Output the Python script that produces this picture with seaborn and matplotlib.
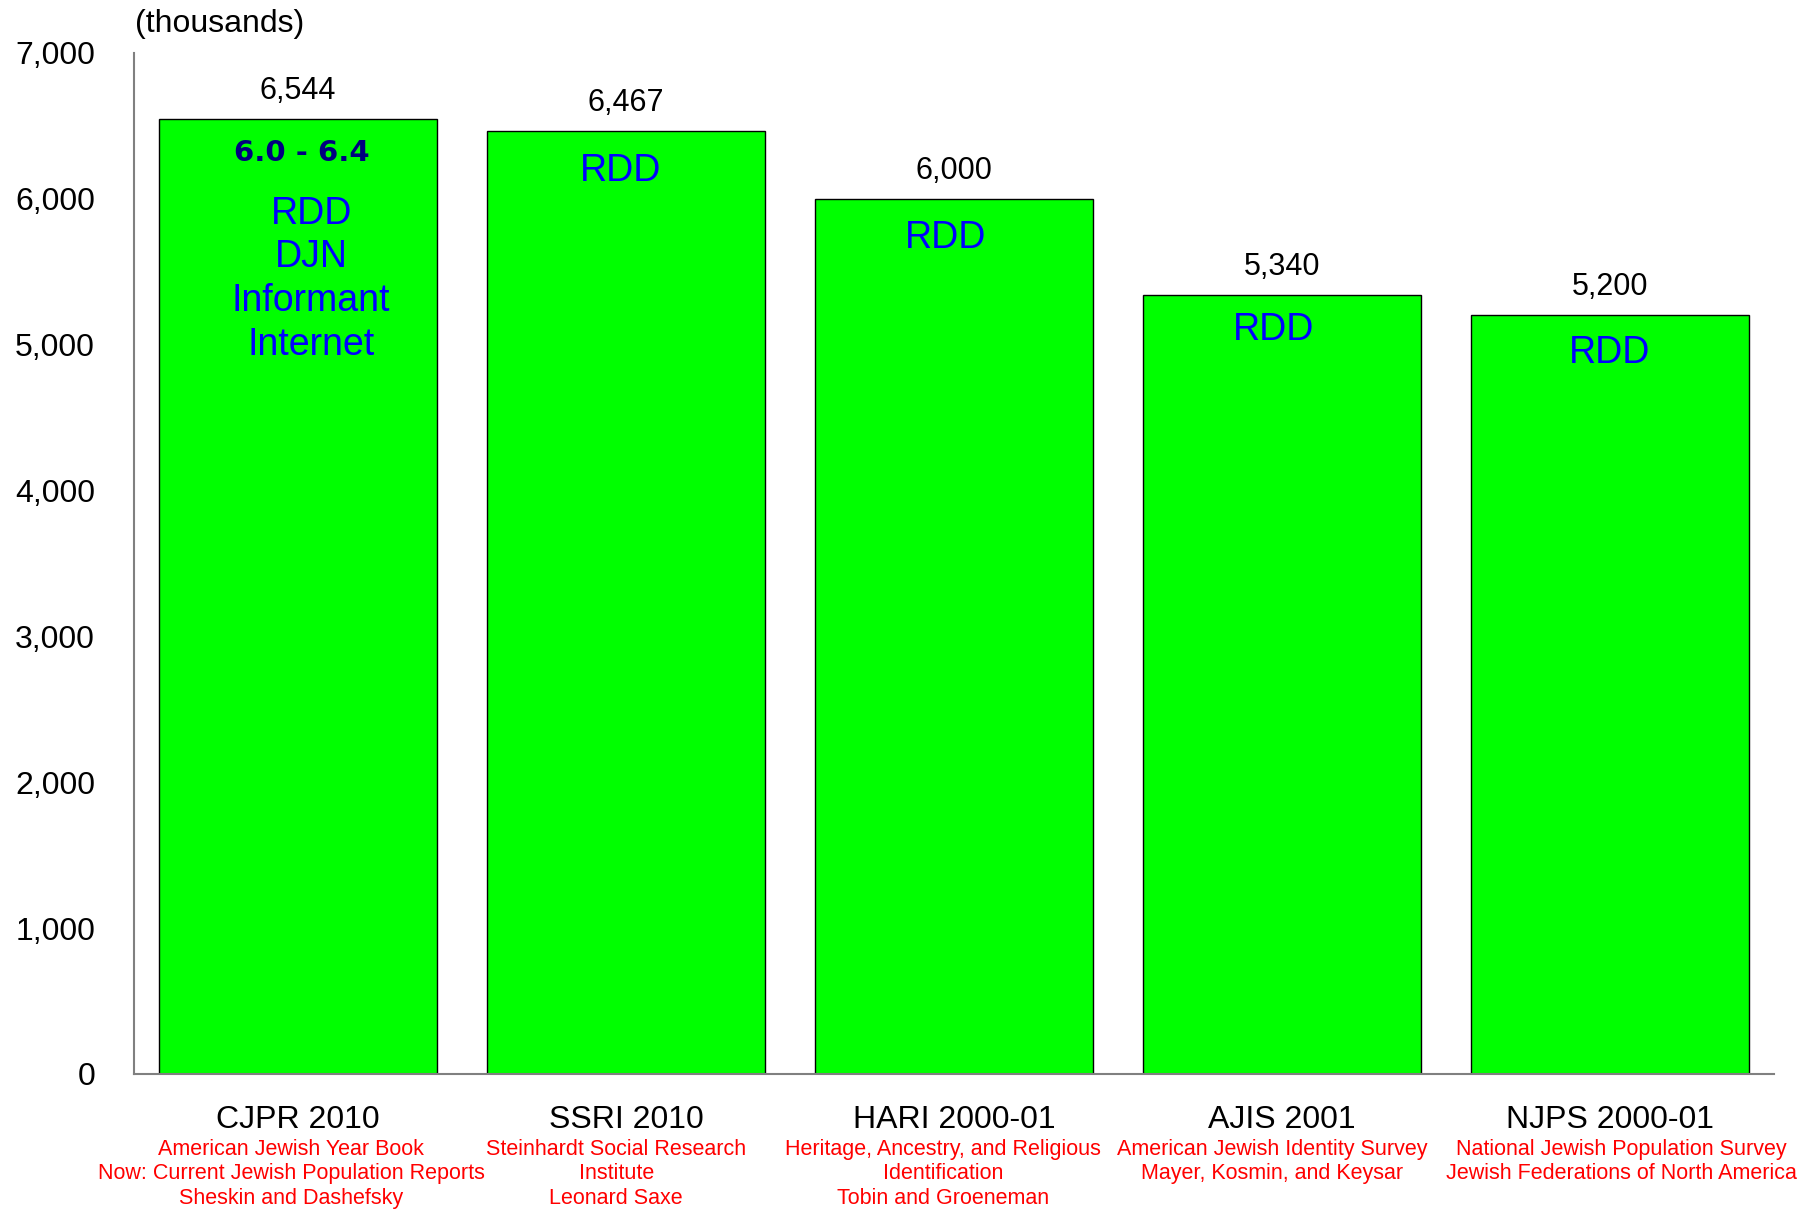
import matplotlib
matplotlib.use("Agg")
import matplotlib.pyplot as plt
import seaborn as sns
import pandas as pd

# ---- data ----
categories = ["CJPR 2010", "SSRI 2010", "HARI 2000-01", "AJIS 2001", "NJPS 2000-01"]
values = [6544, 6467, 6000, 5340, 5200]
value_labels = ["6,544", "6,467", "6,000", "5,340", "5,200"]
methods = ["RDD\nDJN\nInformant\nInternet", "RDD", "RDD", "RDD", "RDD"]
range_label = "6.0 - 6.4"
sources = [
    "American Jewish Year Book\nNow: Current Jewish Population Reports\nSheskin and Dashefsky",
    "Steinhardt Social Research\nInstitute\nLeonard Saxe",
    "Heritage, Ancestry, and Religious\nIdentification\nTobin and Groeneman",
    "American Jewish Identity Survey\nMayer, Kosmin, and Keysar",
    "National Jewish Population Survey\nJewish Federations of North America",
]
yticks = [0, 1000, 2000, 3000, 4000, 5000, 6000, 7000]
ytick_labels = ["0", "1,000", "2,000", "3,000", "4,000", "5,000", "6,000", "7,000"]
unit_label = "(thousands)"

# small nudges (points) for text placement
source_dx = [-5, -7, -8, -7, 8]
method_dx = [9.5, -4, -6, -6, 0]
method_dy = [-55, -29, -28, -25, -27]

# ---- style ----
sns.set_theme(style="white")
plt.rcParams["font.family"] = ["Liberation Sans", "DejaVu Sans"]

fig = plt.figure(figsize=(18.2, 12.09), dpi=100)
ax = fig.add_axes([0.0736, 0.1117, 0.9011, 0.8445])

df = pd.DataFrame({"survey": categories, "value": values})
sns.barplot(data=df, x="survey", y="value", color="#00FF00", saturation=1,
            edgecolor="black", linewidth=1.0, width=0.85, ax=ax)

ax.set_xlim(-0.5, 4.5)
ax.set_ylim(0, 7000)
ax.set_yticks(yticks)
ax.set_yticklabels(ytick_labels, fontsize=23)
ax.tick_params(axis="y", length=0, pad=28, labelcolor="black")
ax.tick_params(axis="x", length=0, pad=22.5, labelsize=23, labelcolor="black")
ax.set_xlabel("")
ax.set_ylabel("")

for s in ["top", "right"]:
    ax.spines[s].set_visible(False)
for s in ["left", "bottom"]:
    ax.spines[s].set_color("#808080")
    ax.spines[s].set_linewidth(1.5)

# value labels
for i, (v, lab) in enumerate(zip(values, value_labels)):
    ax.annotate(lab, xy=(i, v), xytext=(0, 9.5), textcoords="offset points",
                ha="center", va="bottom", fontsize=22, color="black")

# method labels inside bars
for i, (v, m) in enumerate(zip(values, methods)):
    if i == 0:
        ax.annotate(range_label, xy=(i, v), xytext=(3, -24), textcoords="offset points",
                    ha="center", va="center", fontsize=21, fontweight="bold",
                    color="#000080", family="DejaVu Sans")
        ax.annotate(m, xy=(i, v), xytext=(method_dx[i], method_dy[i]), textcoords="offset points",
                    ha="center", va="top", fontsize=27, color="#0000FF",
                    linespacing=1.27)
    else:
        ax.annotate(m, xy=(i, v), xytext=(method_dx[i], method_dy[i]), textcoords="offset points",
                    ha="center", va="center", fontsize=27, color="#0000FF")

# source labels under categories
xt = ax.get_xaxis_transform()
for i, src in enumerate(sources):
    ax.annotate(src, xy=(i, 0), xycoords=xt, xytext=(source_dx[i], -46.7), textcoords="offset points",
                ha="center", va="top", fontsize=15.5, color="#FF0000",
                linespacing=1.22, annotation_clip=False)

# unit label
fig.text(0.074, 0.980, unit_label, ha="left", va="center", fontsize=23, color="black")

fig.savefig("out.png", dpi=100, facecolor="white")
